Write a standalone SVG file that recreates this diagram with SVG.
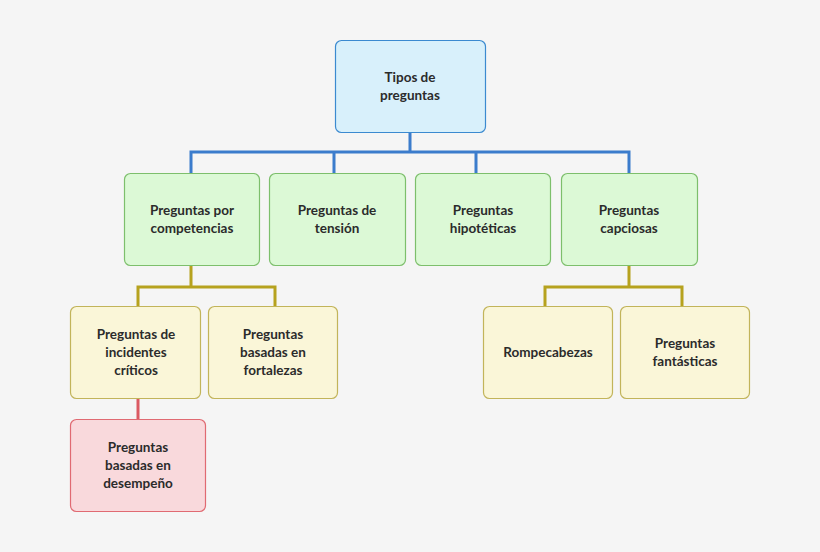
<svg xmlns="http://www.w3.org/2000/svg" width="820" height="552" viewBox="0 0 820 552">
<style>
text{font-family:Lato,"Open Sans","Liberation Sans",sans-serif;font-weight:bold;font-size:13.5px;fill:#2b2b2b;text-anchor:middle}
.b{fill:#d8f0fb;stroke:#3b8ad0}
.g{fill:#dcf9d6;stroke:#7dbf6c}
.y{fill:#faf6d8;stroke:#c2b45a}
.r{fill:#f9d9dc;stroke:#e06a72}
rect{stroke-width:1.2}
.cb{stroke:#3b7ccc;stroke-width:3;fill:none}
.co{stroke:#b6a21e;stroke-width:3;fill:none}
.cr{stroke:#db5a62;stroke-width:3;fill:none}
</style>
<rect width="820" height="552" fill="#f5f5f5"/>
<g id="connectors">
<path class="cb" d="M410 132V152M191 173V152H629V173M334 152V173M476 152V173"/>
<path class="co" d="M191 265V287M138 306V287H275V306M629 265V287M545 306V287H682V306"/>
<path class="cr" d="M138 398V419"/>
</g>
<g id="n0"><rect class="b" x="335.5" y="40.5" width="150" height="92" rx="6"/><text x="410" y="82">Tipos de</text><text x="410" y="100">preguntas</text></g>
<g id="n1"><rect class="g" x="124.5" y="173.5" width="135" height="92" rx="6"/><text x="192" y="215">Preguntas por</text><text x="192" y="233">competencias</text></g>
<g id="n2"><rect class="g" x="269.5" y="173.5" width="136" height="92" rx="6"/><text x="337" y="215">Preguntas de</text><text x="337" y="233">tensión</text></g>
<g id="n3"><rect class="g" x="415.5" y="173.5" width="135" height="92" rx="6"/><text x="483" y="215">Preguntas</text><text x="483" y="233">hipotéticas</text></g>
<g id="n4"><rect class="g" x="561.5" y="173.5" width="136" height="92" rx="6"/><text x="629" y="215">Preguntas</text><text x="629" y="233">capciosas</text></g>
<g id="n5"><rect class="y" x="70.5" y="306.5" width="130" height="92" rx="6"/><text x="136" y="339">Preguntas de</text><text x="136" y="357">incidentes</text><text x="136" y="375">críticos</text></g>
<g id="n6"><rect class="y" x="208.5" y="306.5" width="129" height="92" rx="6"/><text x="273" y="339">Preguntas</text><text x="273" y="357">basadas en</text><text x="273" y="375">fortalezas</text></g>
<g id="n7"><rect class="y" x="483.5" y="306.5" width="129" height="92" rx="6"/><text x="548" y="357">Rompecabezas</text></g>
<g id="n8"><rect class="y" x="620.5" y="306.5" width="129" height="92" rx="6"/><text x="685" y="348">Preguntas</text><text x="685" y="366">fantásticas</text></g>
<g id="n9"><rect class="r" x="70.5" y="419.5" width="135" height="92" rx="6"/><text x="138" y="452">Preguntas</text><text x="138" y="470">basadas en</text><text x="138" y="488">desempeño</text></g>
</svg>
